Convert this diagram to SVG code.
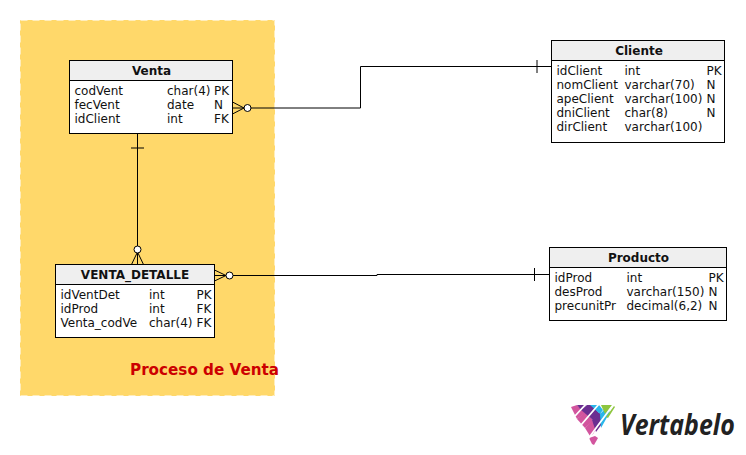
<svg xmlns="http://www.w3.org/2000/svg" width="746" height="455" viewBox="0 0 746 455">
<style>
text{font-family:"DejaVu Sans",sans-serif;font-size:12px;fill:#111}
.t{font-weight:bold;text-anchor:middle}
.b{fill:#fff;stroke:#000;stroke-width:1}
.h{fill:#efefef;stroke:#000;stroke-width:1}
.c{fill:none;stroke:#000;stroke-width:1}
.o{fill:#fff;stroke:#000;stroke-width:1}
.pi{fill:#d2559e}.pu{fill:#6b2d91}.bl{fill:#29b6ea}.gr{fill:#8dc63f}
.w{stroke:#fff;stroke-width:1.800;fill:none}
</style>
<g id="area-proceso">
<rect x="20" y="20" width="255" height="376" fill="#ffd86a"/>
<rect x="20.500" y="20.500" width="254" height="375" fill="none" stroke="#fff" stroke-opacity="0.550" stroke-width="1" stroke-dasharray="7 5"/>
<text x="130" y="375" style="font-size:15.200px;font-weight:bold;fill:#cc0000">Proceso de Venta</text>
</g>
<g id="connectors">
<path class="c" d="M232.500 108H360.500V66.500H551.500"/>
<path class="c" d="M537 60V73"/>
<path class="c" d="M232.500 102L244 108L232.500 114"/>
<circle class="o" cx="247.500" cy="108" r="3.500"/>
<path class="c" d="M137.500 133V264.500"/>
<path class="c" d="M131 148H144"/>
<path class="c" d="M131.500 264.500L137.500 252L143.500 264.500"/>
<circle class="o" cx="137.500" cy="249.500" r="3.500"/>
<path class="c" d="M214.500 275.500H377V274.500H549.500"/>
<path class="c" d="M534.500 268V281"/>
<path class="c" d="M214.500 270L226 275.500L214.500 281"/>
<circle class="o" cx="229.500" cy="275.500" r="3.500"/>
</g>
<g id="venta">
<rect class="b" x="69.500" y="60.500" width="163" height="73"/>
<rect class="h" x="69.500" y="60.500" width="163" height="20"/>
<text class="t" x="151.500" y="75">Venta</text>
<text x="74.500" y="95">codVent</text><text x="167" y="95">char(4)</text><text x="214" y="95">PK</text>
<text x="74.500" y="109">fecVent</text><text x="167" y="109">date</text><text x="214" y="109">N</text>
<text x="74.500" y="123">idClient</text><text x="167" y="123">int</text><text x="214" y="123">FK</text>
</g>
<g id="venta-detalle">
<rect class="b" x="55.500" y="264.500" width="159" height="73"/>
<rect class="h" x="55.500" y="264.500" width="159" height="20"/>
<text class="t" x="135" y="279">VENTA_DETALLE</text>
<text x="60.500" y="299">idVentDet</text><text x="149" y="299">int</text><text x="196.500" y="299">PK</text>
<text x="60.500" y="313">idProd</text><text x="149" y="313">int</text><text x="196.500" y="313">FK</text>
<text x="60.500" y="327">Venta_codVe</text><text x="149" y="327">char(4)</text><text x="196.500" y="327">FK</text>
</g>
<g id="cliente">
<rect class="b" x="551.500" y="40.500" width="173" height="102"/>
<rect class="h" x="551.500" y="40.500" width="173" height="20"/>
<text class="t" x="639" y="55">Cliente</text>
<text x="556.500" y="75">idClient</text><text x="624.500" y="75">int</text><text x="706.500" y="75">PK</text>
<text x="556.500" y="89">nomClient</text><text x="624.500" y="89">varchar(70)</text><text x="706.500" y="89">N</text>
<text x="556.500" y="103">apeClient</text><text x="624.500" y="103">varchar(100)</text><text x="706.500" y="103">N</text>
<text x="556.500" y="117">dniClient</text><text x="624.500" y="117">char(8)</text><text x="706.500" y="117">N</text>
<text x="556.500" y="131">dirClient</text><text x="624.500" y="131">varchar(100)</text>
</g>
<g id="producto">
<rect class="b" x="549.500" y="247.500" width="177" height="73"/>
<rect class="h" x="549.500" y="247.500" width="177" height="20"/>
<text class="t" x="638.500" y="262">Producto</text>
<text x="554.500" y="282">idProd</text><text x="626.500" y="282">int</text><text x="708.500" y="282">PK</text>
<text x="554.500" y="296">desProd</text><text x="626.500" y="296">varchar(150)</text><text x="708.500" y="296">N</text>
<text x="554.500" y="310">precunitPr</text><text x="626.500" y="310">decimal(6,2)</text><text x="708.500" y="310">N</text>
</g>
<g id="logo">
<polygon class="pi" points="571,407 577,405 585,413 577,419"/>
<polygon class="pu" points="577,405 586,405 581,410"/>
<polygon class="pi" points="577,419 585,412 593,420 585,428"/>
<polygon class="pu" points="581,410 587,405 592,405 600,414 593,420"/>
<polygon class="bl" points="590,405 599,405 603,410 600,414"/>
<polygon class="pi" points="585,428 592,420 597,428 593,434 590,436"/>
<polygon class="pu" points="592,420 600,413 605,420 596,432"/>
<polygon class="bl" points="600,414 606,408 610,412 601,428"/>
<polygon class="gr" points="601,405 613,405 605,414"/>
<polygon class="pi" points="589,438 595,436 598,438 594,445 592,444"/>
<path class="gr" d="M606 417L614 406L615 407L608 418Z"/>
<path class="w" d="M586 404L575 416M599 404L581 425M613 405L588 439"/>
<text transform="translate(620 435) scale(0.860 1)" style="font-family:'Open Sans',sans-serif;font-size:29px;font-weight:700;font-style:italic;fill:#222">Vertabelo</text>
</g>
</svg>
